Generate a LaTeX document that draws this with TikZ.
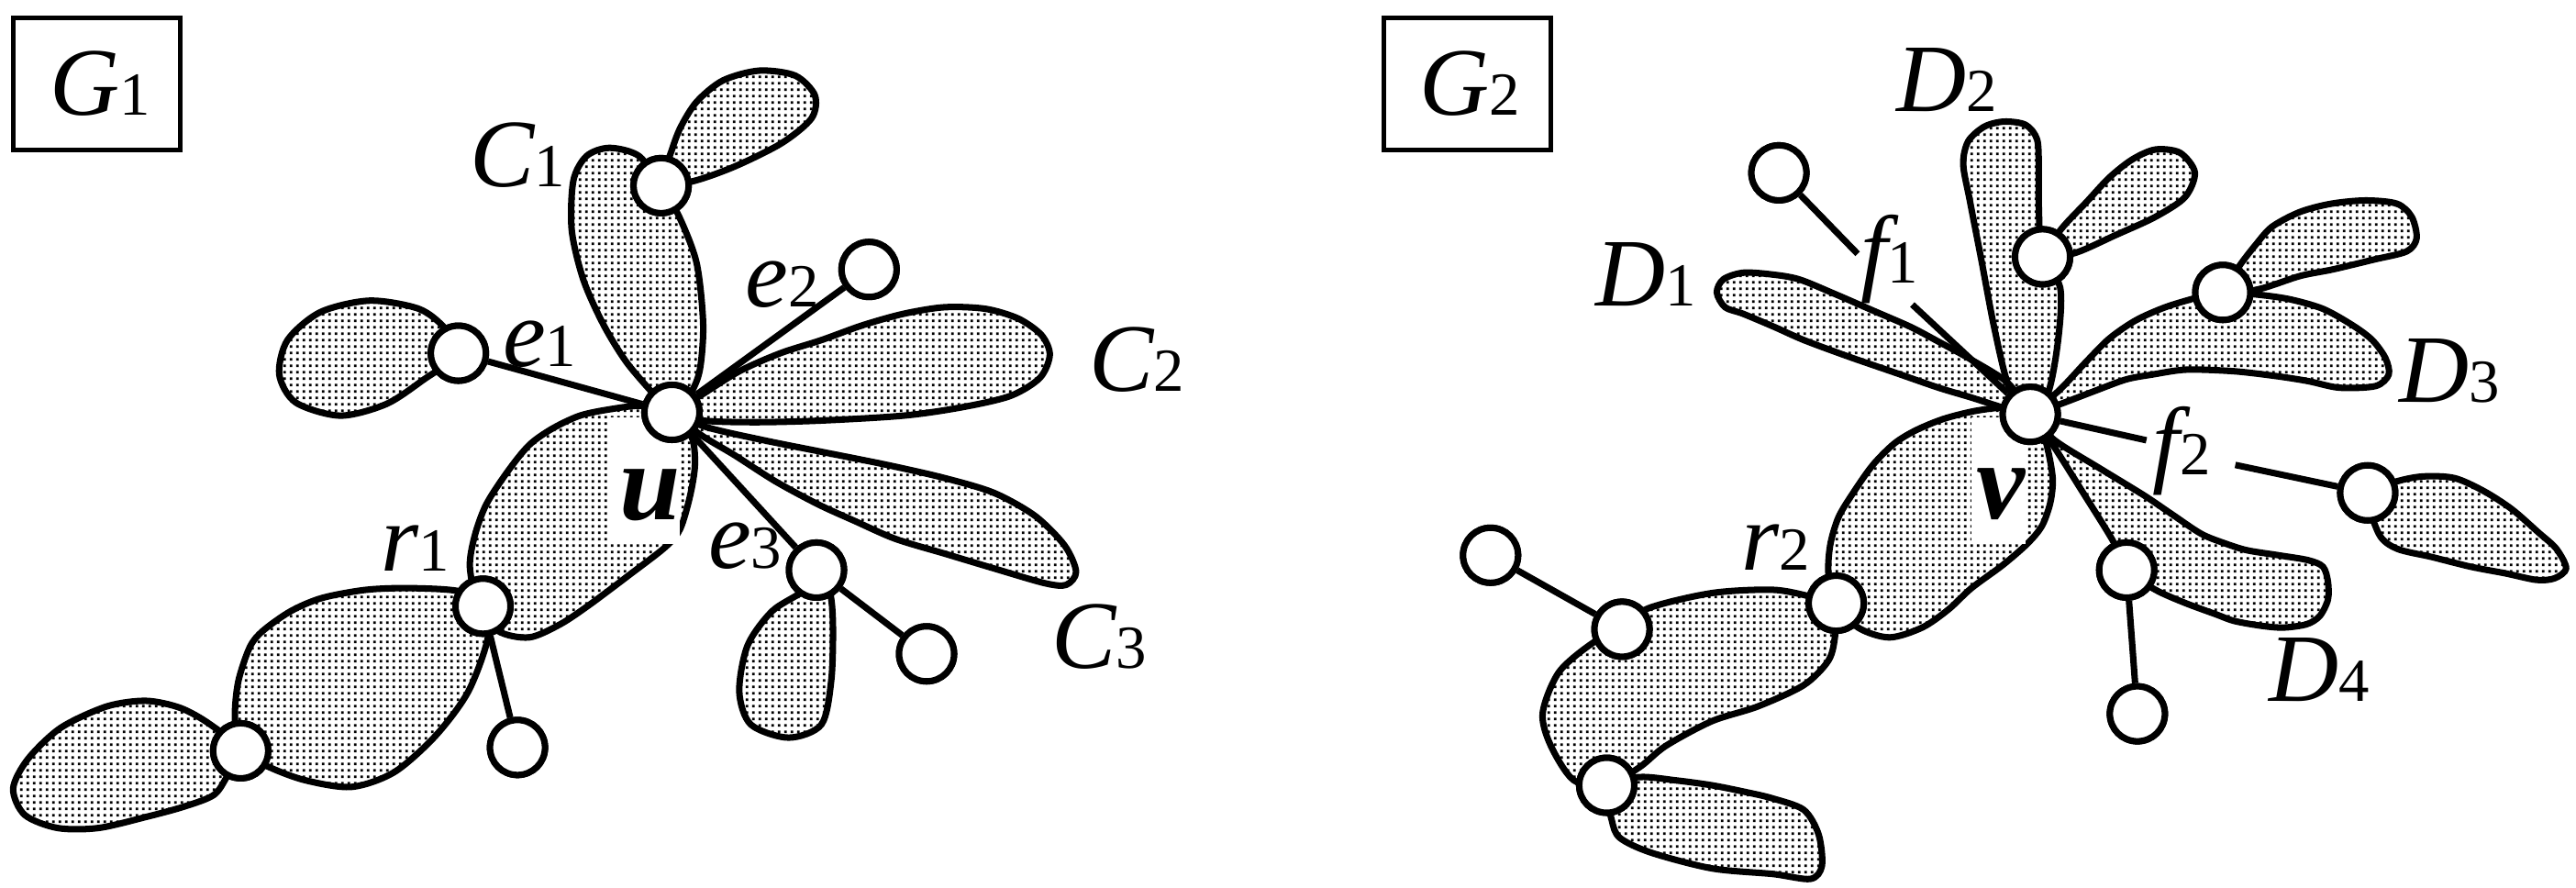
\documentclass[tikz,border=0pt]{standalone}
\usepackage{fontspec}
\setmainfont{Liberation Serif}
\usetikzlibrary{patterns}
\pgfdeclarepatternformonly{fdots}{\pgfqpoint{0pt}{0pt}}{\pgfqpoint{1.99pt}{1.99pt}}{\pgfqpoint{1.99pt}{1.99pt}}{\pgfpathrectangle{\pgfqpoint{0.5pt}{0.5pt}}{\pgfqpoint{0.8pt}{0.8pt}}\pgfusepath{fill}}
\newcommand\Lb[2]{{\fontsize{30}{30}\selectfont\itshape #1}{\fontsize{19}{19}\selectfont #2}}
\begin{document}
\begin{tikzpicture}[x=0.017908cm,y=-0.017908cm,
  vtx/.style={circle,draw,fill=white,line width=2pt,inner sep=0pt,minimum size=0.6cm},
  blob/.style={draw,line width=2pt,pattern=fdots,line join=round},
  edge/.style={line width=2pt},
  lab/.style={anchor=base,inner sep=0pt},
  hub/.style={anchor=base,inner sep=0pt,font=\fontsize{34}{34}\selectfont\bfseries\itshape},
  gbox/.style={draw,line width=1.4pt,minimum width=1.82cm,minimum height=1.44cm,inner sep=0pt},
  wbox/.style={fill=white,draw=none}]
\useasboundingbox (0,0) rectangle (1568,540.5);

% ---------------- G1 blobs ----------------
\draw[blob] plot[smooth cycle] coordinates {(409,251) (398,240) (381,220) (367,197) (355,170) (348,140) (349,110) (357,95) (371,90) (389,95) (402,113) (413,131) (424,160) (428,197) (426,225) (420,240)};
\draw[blob] plot[smooth cycle] coordinates {(402,113) (408,94) (414,78) (424,62) (440,49) (462,43) (484,46) (496,58) (494,72) (476,87) (448,101) (423,110)};
\draw[blob] plot[smooth cycle] coordinates {(279,215) (271,200) (255,188) (225,183) (195,190) (175,207) (170,228) (180,245) (207,253) (235,246) (258,231)};
\draw[blob] plot[smooth cycle] coordinates {(409,251) (426,241) (450,226) (475,215) (500,207) (525,198) (550,191) (575,187) (600,188) (620,194) (634,204) (639,216) (633,230) (615,241) (585,248) (550,253) (500,256) (460,257) (428,256)};
\draw[blob] plot[smooth cycle] coordinates {(409,251) (430,260) (465,268) (500,275) (540,283) (575,291) (605,300) (630,314) (648,332) (655,348) (649,356) (636,355) (605,346) (575,337) (545,328) (520,317) (498,307) (472,293) (447,277) (427,265)};
\draw[blob] plot[smooth cycle] coordinates {(497,347) (490,359) (470,372) (455,393) (450,421) (457,441) (480,449) (500,441) (506,414) (507,380) (505,360)};
\draw[blob] plot[smooth cycle] coordinates {(409,251) (391,247) (372,249) (353,253) (336,261) (322,271) (309,287) (296,307) (289,326) (286,345) (291,368) (303,384) (322,388) (341,380) (359,368) (383,350) (405,333) (414,322) (420,302) (423,283) (421,266)};
\draw[blob] plot[smooth cycle] coordinates {(294,369) (280,360) (250,358) (223,359) (196,364) (177,372) (160,384) (152,394) (145,415) (143,437) (146.5,457) (164,467) (186,475) (214,479) (240,470) (265,448) (285,421) (297,388)};
\draw[blob] plot[smooth cycle] coordinates {(146.5,457) (128,441) (110,431) (89,426.6) (65,430) (37,443) (17,462) (8,480) (15,496) (35,504) (60,504) (90,497) (112,491) (130,484) (138,473)};

% ---------------- G2 blobs ----------------
\draw[blob] plot[smooth cycle] coordinates {(1235.8,252.2) (1222,233) (1200,219) (1180,208) (1163,199) (1140,189) (1117,179) (1095,170) (1078,167) (1061,166) (1049,170) (1045,178) (1050,187) (1061,191) (1080,199) (1098,207) (1125,217) (1154,227) (1180,236) (1200,242) (1222,249)};
\draw[blob] plot[smooth cycle] coordinates {(1235.8,252.2) (1223,236) (1214,200) (1206,158) (1199,122) (1195,100) (1198,86) (1208,77) (1220,74) (1233,76) (1240,85) (1241,103) (1241,125) (1243,156) (1254,175) (1253,205) (1247,238)};
\draw[blob] plot[smooth cycle] coordinates {(1243.3,156.3) (1255,139) (1270,123) (1284,108) (1298,97) (1312,91) (1327,93) (1336,105) (1330,120) (1312,132) (1288,143) (1263,154)};
\draw[blob] plot[smooth cycle] coordinates {(1235.8,252.2) (1253,238) (1270,220) (1284,206) (1300,195) (1318,187) (1338,181) (1353,178) (1371,179) (1393,182) (1414,188) (1432,198) (1444,207) (1452,218) (1454,228) (1446,235) (1424,236) (1405,232) (1386,229) (1360,226) (1331,225) (1310,228) (1294,231) (1275,238) (1254,246)};
\draw[blob] plot[smooth cycle] coordinates {(1353,178) (1363,162) (1373,149) (1383,138) (1400,129) (1419,124) (1440,122) (1459,124) (1468,132) (1471,145) (1465,153) (1445,158) (1420,164) (1400,168) (1375,176)};
\draw[blob] plot[smooth cycle] coordinates {(1441.2,300) (1459,293) (1475,290) (1494,291) (1512,299) (1529,310) (1545,324) (1556,334) (1562,346) (1555,352) (1544,353) (1525,349) (1504,345) (1480,339) (1459,334) (1448,325)};
\draw[blob] plot[smooth cycle] coordinates {(1235.8,252.2) (1250.7,268) (1278,285) (1305,301.5) (1322,313) (1340,325) (1355,331) (1368,335) (1387,338) (1405,341) (1414,345) (1417,354) (1417,365) (1412,375) (1404,380) (1390,382) (1377,381) (1360,378) (1349,374) (1330,367) (1312,359) (1294.5,347) (1286,329) (1268,300) (1249,270)};
\draw[blob] plot[smooth cycle] coordinates {(1235.8,252.2) (1223,248) (1203,250) (1183,255) (1166,262) (1153,270) (1140,283) (1128,300) (1119,315) (1114,332) (1113,350) (1117.7,367.2) (1131,382) (1150,388) (1170,382) (1186,371) (1200,358) (1219,344) (1234,331) (1243,320) (1248,306) (1249.5,292) (1247,276) (1243,262)};
\draw[blob] plot[smooth cycle] coordinates {(1117.7,367.2) (1101.7,363) (1079,359) (1042,361) (1003,370.4) (987.3,383) (970,391) (949,409) (939,434) (944,454) (958,475) (978,478) (998,467) (1014,454) (1042,439) (1070,430) (1098,417) (1113,402) (1117,387)};
\draw[blob] plot[smooth cycle] coordinates {(978,478) (998,473) (1020,475) (1042,478) (1062,482) (1079,486) (1098,493) (1107,508) (1109,527) (1102,535) (1079,532) (1042,528.6) (1005,519) (986,510) (981,499)};

% white label backgrounds
\fill[wbox] (370,254) rectangle (414,331);
\fill[wbox] (1200,254) rectangle (1233,331);

% ---------------- nodes G1 ----------------
\node[vtx] (u) at (409,251) {};
\node[vtx] (c1n) at (402.4,113) {};
\node[vtx] (e1n) at (279,215) {};
\node[vtx] (e2n) at (529,164) {};
\node[vtx] (e3n) at (497,347) {};
\node[vtx] (e3l) at (564,398) {};
\node[vtx] (r1) at (294,369) {};
\node[vtx] (r1l) at (315,455) {};
\node[vtx] (n2) at (146.5,457) {};

% ---------------- nodes G2 ----------------
\node[vtx] (v) at (1235.8,252.2) {};
\node[vtx] (d2n) at (1243.3,156.3) {};
\node[vtx] (f1n) at (1082.8,105.2) {};
\node[vtx] (d3n) at (1353,178) {};
\node[vtx] (f2n) at (1441.2,300) {};
\node[vtx] (d4n) at (1294.5,347) {};
\node[vtx] (d4l) at (1301,434.5) {};
\node[vtx] (r2) at (1117.7,367.2) {};
\node[vtx] (n3) at (987.3,383) {};
\node[vtx] (n3l) at (907.3,338) {};
\node[vtx] (n4) at (978,478) {};

\coordinate (f1a) at (1130.7,154.5);
\coordinate (f1b) at (1164,185.4);
\coordinate (f2a) at (1306.5,268);
\coordinate (f2b) at (1360.6,283);

% ---------------- edges ----------------
\draw[edge] (e1n) -- (u);
\draw[edge] (u) -- (e2n);
\draw[edge] (u) -- (e3n);
\draw[edge] (e3n) -- (e3l);
\draw[edge] (r1) -- (r1l);
\draw[edge] (f1n) -- (f1a);
\draw[edge] (f1b) -- (v);
\draw[edge] (v) -- (f2a);
\draw[edge] (f2b) -- (f2n);
\draw[edge] (d4n) -- (d4l);
\draw[edge] (n3) -- (n3l);

% redraw vertices on top of edges
\foreach \n in {u,c1n,e1n,e2n,e3n,e3l,r1,r1l,n2,v,d2n,f1n,d3n,f2n,d4n,d4l,r2,n3,n3l,n4}
  \draw[line width=2pt,fill=white] (\n) circle (0.3cm);

% ---------------- boxes and labels ----------------
\node[gbox] (box1) at (58.85,50.85) {};
\node[gbox] (box2) at (893,50.85) {};
\node[lab] (g1) at (61,69.8) {\Lb{G}{1}};
\node[lab] (g2) at (894.5,69.8) {\Lb{G}{2}};

\node[lab] (lc1) at (315,113.4) {\Lb{C}{1}};
\node[lab] (le1) at (328.5,222.9) {\Lb{e}{1}};
\node[lab] (le2) at (476,187) {\Lb{e}{2}};
\node[lab] (lc2) at (692,238) {\Lb{C}{2}};
\node[lab] (lc3) at (669,407) {\Lb{C}{3}};
\node[lab] (le3) at (453.5,346) {\Lb{e}{3}};
\node[lab] (lr1) at (253,347.6) {\Lb{r}{1}};
\node[hub] (lu) at (396,316.6) {u};

\node[lab] (ld1) at (1002,186) {\Lb{D}{1}};
\node[lab] (ld2) at (1185,68) {\Lb{D}{2}};
\node[lab] (ld3) at (1491,244.8) {\Lb{D}{3}};
\node[lab] (ld4) at (1411.6,427) {\Lb{D}{4}};
\node[lab] (lf1) at (1150,172) {\Lb{f}{1}};
\node[lab] (lf2) at (1328,288.7) {\Lb{f}{2}};
\node[lab] (lr2) at (1081,347) {\Lb{r}{2}};
\node[hub] (lv) at (1218,315.5) {v};
\end{tikzpicture}
\end{document}
